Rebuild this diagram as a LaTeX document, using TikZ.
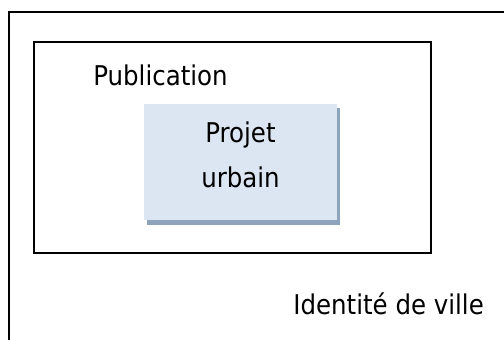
\documentclass[tikz,border=0pt]{standalone}
\usepackage{fontspec}
\setmainfont{DejaVu Sans Condensed}
\definecolor{boxfill}{HTML}{DCE6F2}
\definecolor{boxshadow}{HTML}{8EA4BC}
\begin{document}
\begin{tikzpicture}[x=0.5pt,y=-0.5pt,
  frame/.style={draw=black,line width=0.8pt},
  lbl/.style={inner sep=0pt,font=\fontsize{13.6pt}{16pt}\selectfont},
]
\useasboundingbox (0,0) rectangle (504,340);
\clip (0,0) rectangle (504,340);
% outer frame (only left and top edges visible)
\coordinate (olb) at (9,345);
\coordinate (olt) at (9,12);
\coordinate (ort) at (510,12);
\draw[frame] (olb) -- (olt) -- (ort);
% inner box
\draw[frame] (34,42) rectangle (431,253);
% shadow and blue box
\fill[boxshadow] (147,108) rectangle (340,225);
\fill[boxfill] (144,104) rectangle (337,220);
\node[lbl,anchor=base west] (pub) at (93,86) {Publication};
\node[lbl,anchor=base] (proj) at (240.5,143) {Projet};
\node[lbl,anchor=base] (urb) at (240.5,188) {urbain};
\node[lbl,anchor=base west] (ident) at (293,315) {Identité de ville};
\end{tikzpicture}
\end{document}
